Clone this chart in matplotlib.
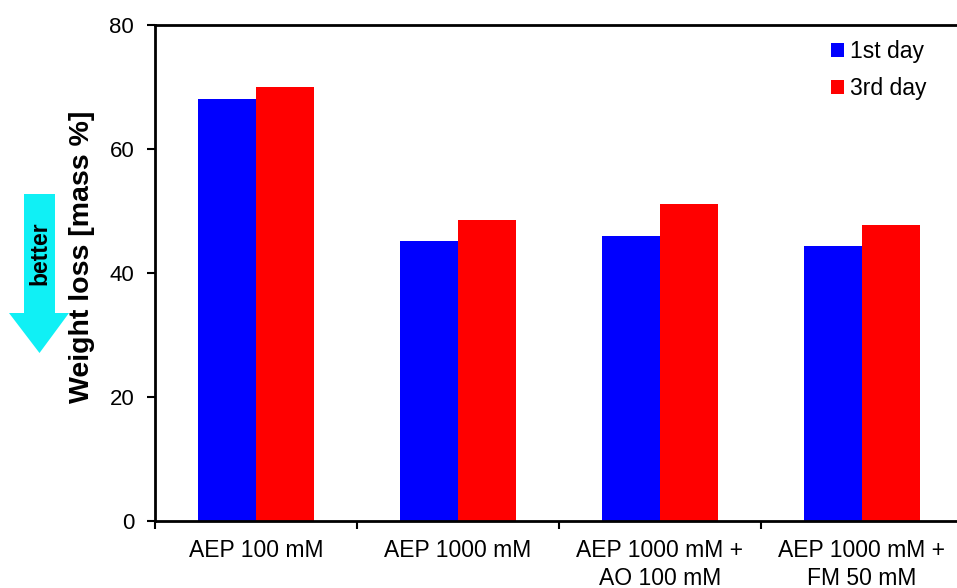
import matplotlib
matplotlib.use("Agg")
import matplotlib.pyplot as plt
import matplotlib.patches as mpatches
import numpy as np

plt.rcParams["font.family"] = ["Liberation Sans", "DejaVu Sans"]

# data
categories = ["AEP 100 mM", "AEP 1000 mM", "AEP 1000 mM +\nAO 100 mM", "AEP 1000 mM +\nFM 50 mM"]
day1 = [68.0, 45.2, 46.0, 44.3]
day3 = [70.0, 48.5, 51.1, 47.8]
series_names = ["1st day", "3rd day"]
yticks = [0, 20, 40, 60, 80]

W, H = 957, 588
fig = plt.figure(figsize=(W / 100, H / 100), dpi=100)
ax = fig.add_axes([155 / W, 67 / H, 808 / W, 496 / H])
ax.set_facecolor("none")

x = np.arange(len(categories))
bw = 0.285
ax.bar(x - bw / 2, day1, bw, color="#0000FF", label=series_names[0])
ax.bar(x + bw / 2, day3, bw, color="#FF0000", label=series_names[1])

ax.set_xlim(-0.5, len(categories) - 0.5)
ax.set_ylim(0, 80)
ax.set_yticks(yticks)
ax.tick_params(axis="y", direction="out", length=6, width=1.5, pad=9, labelsize=16)

# boundary ticks as major, category labels as minor
ax.set_xticks(np.arange(len(categories) + 1) - 0.5)
ax.set_xticklabels([])
ax.set_xticks(x, categories, minor=True)
ax.tick_params(axis="x", which="major", direction="out", length=6, width=1.5)
ax.tick_params(axis="x", which="minor", length=0, pad=13, labelsize=16.5)
for lbl in ax.get_xticklabels(minor=True):
    lbl.set_linespacing(1.3)

for side in ["left", "top", "bottom"]:
    ax.spines[side].set_linewidth(2)
    ax.spines[side].set_color("black")
ax.spines["right"].set_visible(False)

ax.set_ylabel("Weight loss [mass %]", fontsize=20.5, weight="bold", va="center")
ax.yaxis.set_label_coords(-0.09, 0.532)

ax.legend(loc="upper left", bbox_to_anchor=(831 / W, 1 - 40 / H),
          bbox_transform=fig.transFigure, frameon=False, fontsize=16.5,
          handlelength=0.55, handleheight=0.55, handletextpad=0.3,
          labelspacing=0.6, borderpad=0, borderaxespad=0)

# cyan "better" arrow on the left
pts = [(24, 194), (55, 194), (55, 313), (69, 313), (39.5, 353), (9, 313), (24, 313)]
arrow = mpatches.Polygon([(px / W, 1 - py / H) for px, py in pts], closed=True,
                         facecolor="#10F0F5", edgecolor="none",
                         transform=fig.transFigure, zorder=-1)
fig.patches.append(arrow)
fig.text(40 / W, 1 - 253 / H, "better", rotation=90, ha="center", va="center",
         fontsize=16.5, weight="bold", color="black")

plt.savefig("out.png", dpi=100, facecolor="white")
plt.close()
